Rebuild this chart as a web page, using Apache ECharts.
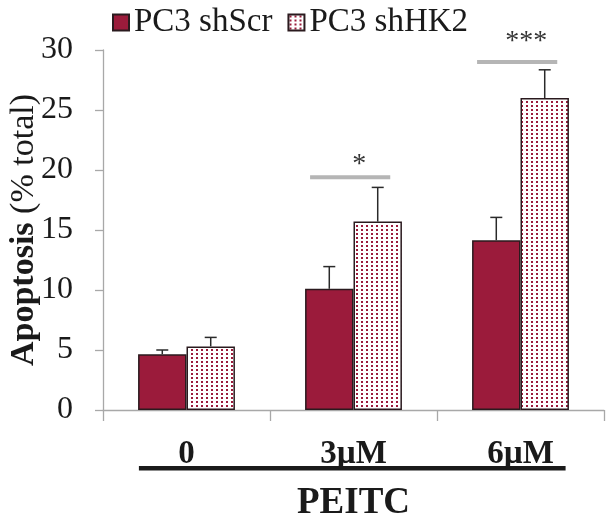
<!DOCTYPE html>
<html><head><meta charset="utf-8">
<script src="https://cdn.jsdelivr.net/npm/echarts@6/dist/echarts.min.js"></script>
<style>html,body{margin:0;padding:0;background:#fff}#c{width:606px;height:524px}</style>
</head><body><div id="c"></div>
<script>
const categories = ['0', '3µM', '6µM'];
const seriesNames = ['PC3 shScr', 'PC3 shHK2'];
const shScr = [4.65, 10.1, 14.15];
const shScrErr = [0.35, 1.85, 1.9];
const shHK2 = [5.3, 15.7, 26.0];
const shHK2Err = [0.75, 2.85, 2.35];
const sigLevel = [null, 19.4, 29.0];
const sigLabel = ['', '*', '***'];
const yMin = 0, yMax = 30, yStep = 5;
const xAxisTitle = 'PEITC';

const CRIMSON = '#9b1b3b';
const FONT = '"Liberation Serif", "Times New Roman", serif';

const pc = document.createElement('canvas');
pc.width = 5; pc.height = 4;
const pctx = pc.getContext('2d');
pctx.fillStyle = '#ffffff'; pctx.fillRect(0, 0, 5, 4);
pctx.fillStyle = CRIMSON; pctx.fillRect(1, 1, 2, 2);
const dotPattern = { image: pc, repeat: 'repeat' };

const BAR_FRAC = 0.29;

function errData(vals, errs) { return vals.map((v, i) => [i, v, errs[i]]); }

function errRender(side) {
  return function (params, api) {
    const i = api.value(0), v = api.value(1), e = api.value(2);
    const band = api.size([1, 0])[0];
    const bw = band * BAR_FRAC;
    const base = api.coord([i, v]);
    const top = api.coord([i, v + e]);
    const x = base[0] + side * bw / 2;
    const style = { stroke: '#2a2a2a', lineWidth: 1.5 };
    return { type: 'group', children: [
      { type: 'line', shape: { x1: x, y1: base[1], x2: x, y2: top[1] }, style },
      { type: 'line', shape: { x1: x - 6, y1: top[1], x2: x + 6, y2: top[1] }, style }
    ]};
  };
}

const sigData = sigLevel.map((l, i) => [i, l]).filter(d => d[1] != null);

const chart = echarts.init(document.getElementById('c'), null, { renderer: 'canvas' });
chart.setOption({
  animation: false,
  backgroundColor: '#fff',
  textStyle: { fontFamily: FONT },
  legend: {
    data: seriesNames,
    left: 107, top: 1,
    icon: 'rect', itemWidth: 16, itemHeight: 16, itemGap: 15,
    textStyle: { fontFamily: FONT, fontSize: 33, color: '#1a1a1a' }
  },
  grid: { left: 103, right: 2, top: 50, bottom: 114, outerBoundsMode: 'none', containLabel: false },
  xAxis: {
    type: 'category', data: categories,
    axisLine: { lineStyle: { color: '#a8a8a8', width: 1.3 } },
    axisTick: { show: true, length: 11, lineStyle: { color: '#a8a8a8', width: 1.3 } },
    axisLabel: { fontFamily: FONT, fontWeight: 'bold', fontSize: 33, color: '#1a1a1a', margin: 28 },
    name: xAxisTitle, nameLocation: 'middle', nameGap: 75, nameMoveOverlap: false,
    nameTextStyle: { fontFamily: FONT, fontWeight: 'bold', fontSize: 37, color: '#1a1a1a' }
  },
  yAxis: {
    type: 'value', min: yMin, max: yMax, interval: yStep,
    axisLine: { show: true, lineStyle: { color: '#a8a8a8', width: 1.3 } },
    axisTick: { show: true, length: 8, lineStyle: { color: '#a8a8a8', width: 1.3 } },
    splitLine: { show: false },
    axisLabel: { fontFamily: FONT, fontSize: 32, color: '#1a1a1a', margin: 30 },
    name: '{b|Apoptosis}{n| (% total)}', nameLocation: 'middle', nameRotate: 90, nameGap: 62,
    nameMoveOverlap: false,
    nameTextStyle: { rich: {
      b: { fontFamily: FONT, fontWeight: 'bold', fontSize: 34, color: '#1a1a1a' },
      n: { fontFamily: FONT, fontSize: 34, color: '#1a1a1a' }
    } }
  },
  series: [
    { name: seriesNames[0], type: 'bar', data: shScr, barWidth: (BAR_FRAC * 100) + '%', barGap: '0%',
      itemStyle: { color: CRIMSON, borderColor: '#2a1a1e', borderWidth: 1.5 } },
    { name: seriesNames[1], type: 'bar', data: shHK2, barWidth: (BAR_FRAC * 100) + '%', barGap: '0%',
      itemStyle: { color: dotPattern, borderColor: '#2a1a1e', borderWidth: 1.5 } },
    { type: 'custom', data: errData(shScr, shScrErr), renderItem: errRender(-1), z: 5, silent: true },
    { type: 'custom', data: errData(shHK2, shHK2Err), renderItem: errRender(1), z: 5, silent: true },
    { type: 'custom', data: sigData, z: 6, silent: true,
      renderItem: function (params, api) {
        const i = api.value(0), l = api.value(1);
        const band = api.size([1, 0])[0];
        const p = api.coord([i, l]);
        const lab = sigLabel[i];
        const gap = lab.length > 1 ? 6 : -1;
        return { type: 'group', children: [
          { type: 'line', shape: { x1: p[0] - band * 0.26, y1: p[1], x2: p[0] + band * 0.22, y2: p[1] },
            style: { stroke: '#b5b5b5', lineWidth: 4 } },
          { type: 'text', x: p[0] + band * 0.035, y: p[1] - gap,
            style: { text: lab, fontFamily: FONT, fontSize: 28, fill: '#333', align: 'center', verticalAlign: 'bottom' } }
        ]};
      } }
  ]
});

const pL = chart.convertToPixel({ xAxisIndex: 0 }, 0);
const pR = chart.convertToPixel({ xAxisIndex: 0 }, categories.length - 1);
const band = (pR - pL) / (categories.length - 1);
chart.setOption({ graphic: [{
  type: 'rect', shape: { x: pL - band * 0.285, y: 466, width: (pR - pL) + band * 0.555, height: 4.5 },
  style: { fill: '#1a1a1a' }
}]});
</script></body></html>
